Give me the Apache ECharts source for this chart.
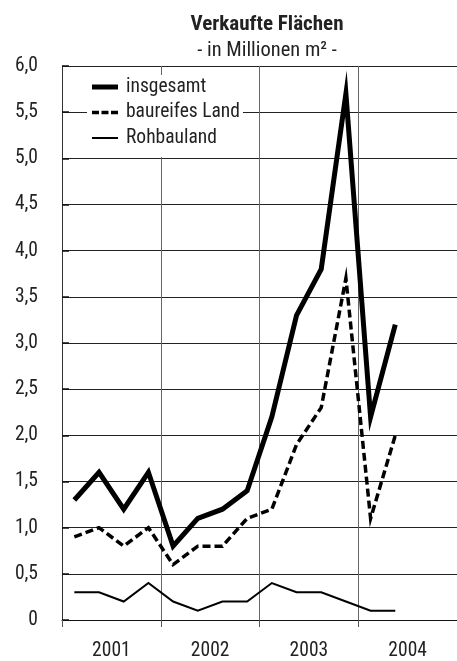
<!DOCTYPE html>
<html>
<head>
<meta charset="utf-8">
<script src="https://cdn.jsdelivr.net/npm/echarts@6/dist/echarts.min.js"></script>
<style>html,body{margin:0;padding:0;background:#fff}#c{width:457px;height:661px}</style>
</head>
<body>
<div id="c"></div>
<script>
const quarters = ['2001 Q1','2001 Q2','2001 Q3','2001 Q4','2002 Q1','2002 Q2','2002 Q3','2002 Q4','2003 Q1','2003 Q2','2003 Q3','2003 Q4','2004 Q1','2004 Q2','2004 Q3','2004 Q4'];
const years = ['2001','2002','2003','2004'];
const insgesamt = [1.3,1.6,1.2,1.6,0.8,1.1,1.2,1.4,2.2,3.3,3.8,5.7,2.2,3.2];
const baureifesLand = [0.9,1.0,0.8,1.0,0.6,0.8,0.8,1.1,1.2,1.9,2.3,3.7,1.1,2.0];
const rohbauland = [0.3,0.3,0.2,0.4,0.2,0.1,0.2,0.2,0.4,0.3,0.3,0.2,0.1,0.1];
const seriesNames = ['insgesamt','baureifes Land','Rohbauland'];

// pick an installed condensed font
const candidates = [
  {fam:'"Liberation Sans Narrow"', st:''},
  {fam:'"Roboto Condensed"', st:''},
  {fam:'"Noto Sans Condensed"', st:''},
  {fam:'"Open Sans Condensed"', st:''},
  {fam:'"Noto Sans"', st:'condensed'},
  {fam:'"Open Sans"', st:'condensed'},
  {fam:'"DejaVu Sans Condensed"', st:''},
  {fam:'"Liberation Sans"', st:''}
];
const ctx = document.createElement('canvas').getContext('2d');
const SAMPLE = 'baureifes Land';
function measure(f){ ctx.font='bold 7px serif'; ctx.font=f; if(ctx.font==='bold 7px serif') return -1; return ctx.measureText(SAMPLE).width; }
let pick = candidates[candidates.length-1], pickW = 0;
for (const c of candidates) {
  const pre = c.st ? 'normal ' + c.st + ' ' : '';
  const w1 = measure(pre+'20px '+c.fam+', monospace'), m = measure(pre+'20px monospace');
  const w2 = measure(pre+'20px '+c.fam+', serif'), s = measure(pre+'20px serif');
  if (w1 < 0 || w2 < 0) continue;
  if (Math.abs(w1-m) < 0.01 && Math.abs(w2-s) < 0.01) continue;
  if (c.st) { const wn = measure('20px '+c.fam); if (!(w1 < wn*0.95)) continue; }
  pick = c; pickW = w1; break;
}
if (!pickW) pickW = measure('20px '+pick.fam);
const FONT = pick.fam + ',sans-serif';
const FW = pick.st ? pick.st : 'normal';
const FWB = pick.st ? 'bold ' + pick.st : 'bold';
const FS = Math.round(20 * 113 / pickW * 2) / 2;

const chart = echarts.init(document.getElementById('c'), null, {renderer:'canvas'});
chart.setOption({
  animation:false,
  backgroundColor:'#fff',
  title:{
    text:'Verkaufte Flächen',
    subtext:'- in Millionen m² -',
    left:262, top:9, textAlign:'center', itemGap:5,
    textStyle:{fontFamily:FONT,fontWeight:FWB,fontSize:FS*1.08,color:'#222',lineHeight:22},
    subtextStyle:{fontFamily:FONT,fontWeight:FW,fontSize:FS*1.05,color:'#222',lineHeight:20}
  },
  legend:{
    orient:'vertical', left:87, top:75,
    backgroundColor:'#fff', padding:[2,3,9,5],
    itemWidth:26, itemHeight:5, itemGap:5.5,
    symbolKeepAspect:false,
    data:[
      {name:seriesNames[0], icon:'path://M0,0M26,5M0,0h26v5h-26z'},
      {name:seriesNames[1], icon:'path://M0,0M26,5M0,0.75h7v3.5h-7zM9.5,0.75h7v3.5h-7zM19,0.75h7v3.5h-7z'},
      {name:seriesNames[2], icon:'path://M0,0M26,5M0,1.5h26v2h-26z'}
    ],
    itemStyle:{color:'#000'},
    textStyle:{fontFamily:FONT,fontWeight:FW,fontSize:FS,color:'#222',lineHeight:20,padding:[0,0,0,3]}
  },
  grid:{left:62, top:66, width:406, height:556},
  xAxis:[
    {type:'category', data:quarters, show:false, boundaryGap:true},
    {type:'category', data:years, position:'bottom', boundaryGap:true,
     axisLine:{show:true,lineStyle:{color:'#111',width:1}},
     axisTick:{show:true,length:7,lineStyle:{color:'#555'}},
     splitLine:{show:true,lineStyle:{color:'#666',width:1}},
     axisLabel:{fontFamily:FONT,fontWeight:FW,fontSize:FS,color:'#222',margin:21}}
  ],
  yAxis:{
    type:'value', min:0, max:6, interval:0.5,
    axisLine:{show:true,lineStyle:{color:'#333',width:1}},
    axisTick:{show:true,inside:true,length:7,lineStyle:{color:'#111',width:1.5}},
    splitLine:{show:true,lineStyle:{color:'#222',width:1}},
    axisLabel:{fontFamily:FONT,fontWeight:FW,fontSize:FS,color:'#222',margin:24,
      formatter:v=> v===0 ? '0' : v.toFixed(1).replace('.',',')}
  },
  series:[
    {name:seriesNames[0], type:'line', xAxisIndex:0, data:insgesamt, symbol:'none',
     lineStyle:{color:'#000',width:5,join:'miter',miterLimit:30}, itemStyle:{color:'#000'}},
    {name:seriesNames[1], type:'line', xAxisIndex:0, data:baureifesLand, symbol:'none',
     lineStyle:{color:'#000',width:3.5,type:[8,4],join:'miter',miterLimit:30}, itemStyle:{color:'#000'}},
    {name:seriesNames[2], type:'line', xAxisIndex:0, data:rohbauland, symbol:'none',
     lineStyle:{color:'#000',width:2,join:'miter'}, itemStyle:{color:'#000'}}
  ]
});
</script>
</body>
</html>
